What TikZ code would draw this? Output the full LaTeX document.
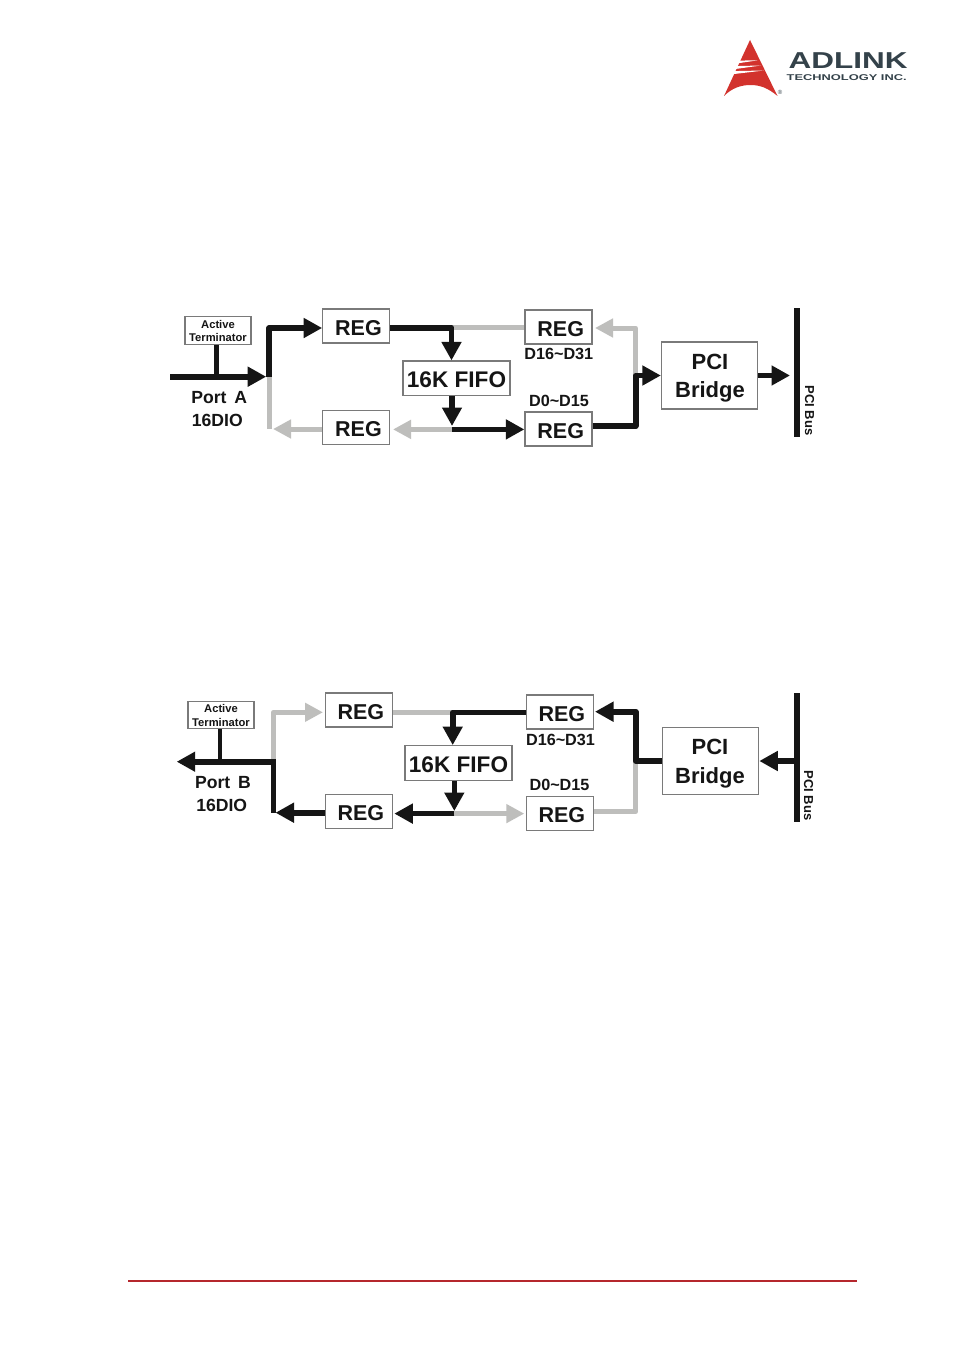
\documentclass[tikz,border=0pt]{standalone}
\usepackage{fontspec}
\setmainfont{Liberation Sans}
\usetikzlibrary{arrows.meta,calc}
\definecolor{ink}{HTML}{151515}
\definecolor{soft}{HTML}{BEBEBC}
\definecolor{edge}{HTML}{7A7A7A}
\definecolor{logored}{HTML}{D2322D}
\definecolor{logoink}{HTML}{34424A}
\definecolor{rulered}{HTML}{B5272D}
\newcommand{\regtext}{\kern4.4pt REG}
\tikzset{
  box/.style={draw=edge,line width=1.3pt,fill=white,inner sep=0pt,align=center,text=ink},
  regbox/.style={box,minimum width=67pt,minimum height=34pt,text height=18.2pt,text depth=0pt,font=\bfseries\fontsize{21.5}{26}\selectfont},
  fifobox/.style={box,minimum width=107pt,minimum height=34.5pt,text height=18.2pt,text depth=0pt,font=\bfseries\fontsize{22.6}{26}\selectfont},
  pcibox/.style={box,minimum width=96pt,minimum height=67pt},
  pcitext/.style={inner sep=0pt,align=center,text=ink,font=\bfseries\fontsize{22}{28.5}\selectfont},
  termbox/.style={box,minimum width=66pt,minimum height=27.5pt},
  termtext/.style={inner sep=0pt,align=center,text=ink,font=\bfseries\fontsize{11.2}{13.4}\selectfont},
  lab/.style={inner sep=0pt,text=ink,align=center,font=\bfseries\fontsize{17.6}{22}\selectfont},
  dlab/.style={inner sep=0pt,text=ink,font=\bfseries\fontsize{16.2}{18}\selectfont},
  buslab/.style={inner sep=0pt,text=ink,rotate=-90,font=\bfseries\fontsize{13}{14}\selectfont},
  hot/.style={draw=ink,line width=5.6pt,line join=round},
  stub/.style={draw=ink,line width=4.6pt},
  cold/.style={draw=soft,line width=5pt,line join=round},
  bus/.style={draw=ink,line width=6pt},
  hotarrow/.style={hot,-{Triangle[length=18.5pt,width=19pt,fill=ink]}},
  coldarrow/.style={cold,-{Triangle[length=18pt,width=18pt,fill=soft]}},
}
\begin{document}
\begin{tikzpicture}[x=1pt,y=-1pt]
\useasboundingbox (0,0) rectangle (954,1351);
\fill[white] (0,0) rectangle (954,1351);

% ---------- logo
\fill[logored] (750,40) -- (777.5,96) .. controls (768,88) and (760,85) .. (750.5,85)
  .. controls (741,85) and (732,88) .. (724,96) -- cycle;
\fill[white] (733,60.6) -- (733,64) -- (757.5,60.4) -- cycle;
\fill[white] (731,66.2) -- (731,69.6) -- (761,65.5) -- cycle;
\fill[white] (729,71.2) -- (729,74.6) -- (764,70.5) -- cycle;
\node[inner sep=0pt,anchor=base west,text=logoink] (logoa) at (788.5,69)
  {\scalebox{1.37}[1]{\bfseries\fontsize{23}{24}\selectfont ADLINK}};
\node[inner sep=0pt,anchor=base west,text=logoink] (logob) at (786.5,80.3)
  {\scalebox{1.53}[1]{\bfseries\fontsize{8.4}{10}\selectfont TECHNOLOGY INC.}};
\node[inner sep=0pt,text=logoink,font=\fontsize{6}{7}\selectfont] (logoc) at (780,92.5) {®};

% ---------- upper diagram
\node[termbox] (ta) at (218,330.5) {};
\node[termtext] (tat) at (218,331) {Active\\Terminator};
\node[regbox] (a1) at (356.3,326) {\regtext};
\node[regbox] (a2) at (356.3,427.8) {\regtext};
\node[regbox] (a3) at (558.5,327) {\regtext};
\node[regbox] (a4) at (558.5,429) {\regtext};
\node[fifobox] (af) at (456.5,378.3) {16K FIFO};
\node[pcibox] (ap) at (709.5,375.5) {};
\node[pcitext] (apt) at (710,378.3) {PCI\\Bridge};
\coordinate (abt) at (796.7,308);
\coordinate (abb) at (796.7,437);
\coordinate (as) at (170,376.7);
\coordinate (aj) at (269,376.7);
\coordinate (au) at (269,328);
\coordinate (ad) at (269,429);
\coordinate (aft) at (451.5,327.7);
\coordinate (afb) at (452,429.4);
\coordinate (arm) at (635.7,375.5);
\coordinate (arb) at (635.7,426);
\coordinate (art) at (635.7,328);

\draw[cold] (aft) -- (aft -| a3.west);
\draw[cold] (aj) -- (ad);
\draw[coldarrow] (ad -| a2.west) -- (ad -| 273,0);
\draw[coldarrow] (afb) -- (afb -| 393,0);
\draw[coldarrow] (arm) -- (art) -- (art -| 595,0);
\draw[stub] (ta.south -| 216.7,0) -- (216.7,376.7);
\draw[hotarrow] (as) -- (266.2,376.7);
\draw[hotarrow] ($(aj)+(0,.6)$) -- (au) -- (au -| a1.west);
\draw[hotarrow] (a1.east |- aft) -- (aft) -- (aft |- af.north);
\draw[hotarrow] (af.south -| 452,0) -- (452,426);
\draw[hotarrow] (afb) -- (afb -| a4.west);
\draw[hotarrow] (a4.east |- arb) -- (arb) -- (arm) -- (arm -| ap.west);
\draw[hotarrow] (ap.east) -- (790,375.5);
\draw[bus] (abt) -- (abb);
\node[lab] (ala) at (219.3,398) {Port\hspace{.45em}A};
\node[lab] (alb) at (217.3,420.5) {16DIO};
\node[dlab] (ald) at (558.8,354.3) {D16\string~D31};
\node[dlab] (ale) at (559,400.8) {D0\string~D15};
\node[buslab] (alf) at (809.5,410.5) {PCI Bus};

% ---------- lower diagram
\node[termbox] (tb) at (221,715) {};
\node[termtext] (tbt) at (221,715.5) {Active\\Terminator};
\node[regbox] (b1) at (358.7,710) {\regtext};
\node[regbox] (b2) at (358.7,811.7) {\regtext};
\node[regbox] (b3) at (559.7,712) {\regtext};
\node[regbox] (b4) at (559.7,813.7) {\regtext};
\node[fifobox] (bf) at (458.5,763) {16K FIFO};
\node[pcibox] (bp) at (710.2,760.8) {};
\node[pcitext] (bpt) at (710,763.5) {PCI\\Bridge};
\coordinate (bbt) at (797,693);
\coordinate (bbb) at (797,822);
\coordinate (bbm) at (797,761);
\coordinate (bj) at (273.3,761.7);
\coordinate (bu) at (273.3,712.3);
\coordinate (bd) at (273.3,812.7);
\coordinate (bft) at (452.7,712.3);
\coordinate (bfb) at (454.3,813.6);
\coordinate (brm) at (635.7,761);
\coordinate (brb) at (635.7,811.7);
\coordinate (brt) at (635.7,711.7);

\draw[coldarrow] (bj) -- (bu) -- (bu -| 323,0);
\draw[cold] (b1.east |- bft) -- (bft);
\draw[coldarrow] (bfb) -- (bfb -| 524.3,0);
\draw[cold] (brm) -- (brb) -- (brb -| b4.east);
\draw[stub] (tb.south -| 220,0) -- (220,761.7);
\draw[hotarrow] (bj) -- (176.7,761.7);
\draw[hot,line cap=rect] (bj) -- ($(bd)+(0,-2.2)$);
\draw[hotarrow] (bd -| b2.west) -- (bd -| 275.5,0);
\draw[hotarrow] (b3.west |- bft) -- (bft) -- (bft |- bf.north);
\draw[hotarrow] (bf.south -| bfb) -- (bfb |- 0,811);
\draw[hotarrow] (bfb) -- (bfb -| 394.3,0);
\draw[hotarrow] (bp.west |- brm) -- (brm) -- (brt) -- (brt -| 595,0);
\draw[hotarrow] (bbm) -- (759.3,761);
\draw[bus] (bbt) -- (bbb);
\node[lab] (bla) at (223,783) {Port\hspace{.45em}B};
\node[lab] (blb) at (221.7,805.3) {16DIO};
\node[dlab] (bld) at (560.5,739.8) {D16\string~D31};
\node[dlab] (ble) at (559.5,785.3) {D0\string~D15};
\node[buslab] (blf) at (808.5,795.5) {PCI Bus};

% ---------- footer rule
\coordinate (fa) at (128,1281);
\coordinate (fb) at (857,1281);
\draw[rulered,line width=1.6pt] (fa) -- (fb);
\end{tikzpicture}
\end{document}
